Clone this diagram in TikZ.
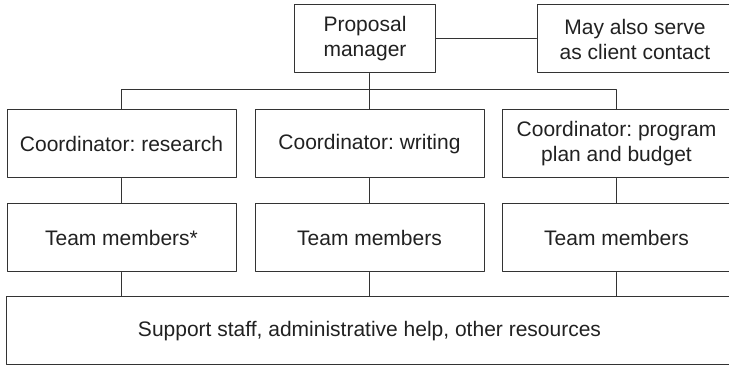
\documentclass[tikz,border=0pt]{standalone}
\usepackage{fontspec}
\setmainfont{Liberation Sans}
\frenchspacing
\begin{document}
\begin{tikzpicture}[x=1pt,y=-1pt, line join=round, line cap=round,
    box/.style={draw=black!80, line width=1pt, minimum width=229pt, minimum height=68pt,
      inner sep=0pt, align=center, text=black!87, font=\fontsize{21}{25}\selectfont},
    link/.style={draw=black!80, line width=1pt}]
    \useasboundingbox (0,0) rectangle (729,366);
    \clip (0,0) rectangle (729,366);
    % top row
    \node[box, minimum width=141pt] (manager) at (365,39) {Proposal\\manager};
    \node[box, minimum width=196pt] (contact) at (635,39) {May also serve\\as client contact};
    % coordinators
    \node[box] (research) at (121.5,144) {Coordinator: research};
    \node[box] (writing) at (369.5,144) {Coordinator: writing};
    \node[box] (budget) at (616.5,144) {Coordinator: program\\plan and budget};
    % teams
    \node[box] (teamA) at (121.5,238) {Team members*};
    \node[box] (teamB) at (369.5,238) {Team members};
    \node[box] (teamC) at (616.5,238) {Team members};
    % support
    \node[box, minimum width=727pt] (support) at (369.5,331) {Support staff, administrative help, other resources};
    \coordinate (bus) at (0,90);
    \draw[link] (manager) -- (contact);
    \draw[link] (writing.north) -- (writing.north |- manager.south);
    \draw[link] (research.north) -- (research.north |- bus) -- (budget.north |- bus) -- (budget.north);
    \draw[link] (research) -- (teamA);
    \draw[link] (writing) -- (teamB);
    \draw[link] (budget) -- (teamC);
    \draw[link] (teamA.south) -- (teamA.south |- support.north);
    \draw[link] (teamB.south) -- (teamB.south |- support.north);
    \draw[link] (teamC.south) -- (teamC.south |- support.north);
\end{tikzpicture}
\end{document}
